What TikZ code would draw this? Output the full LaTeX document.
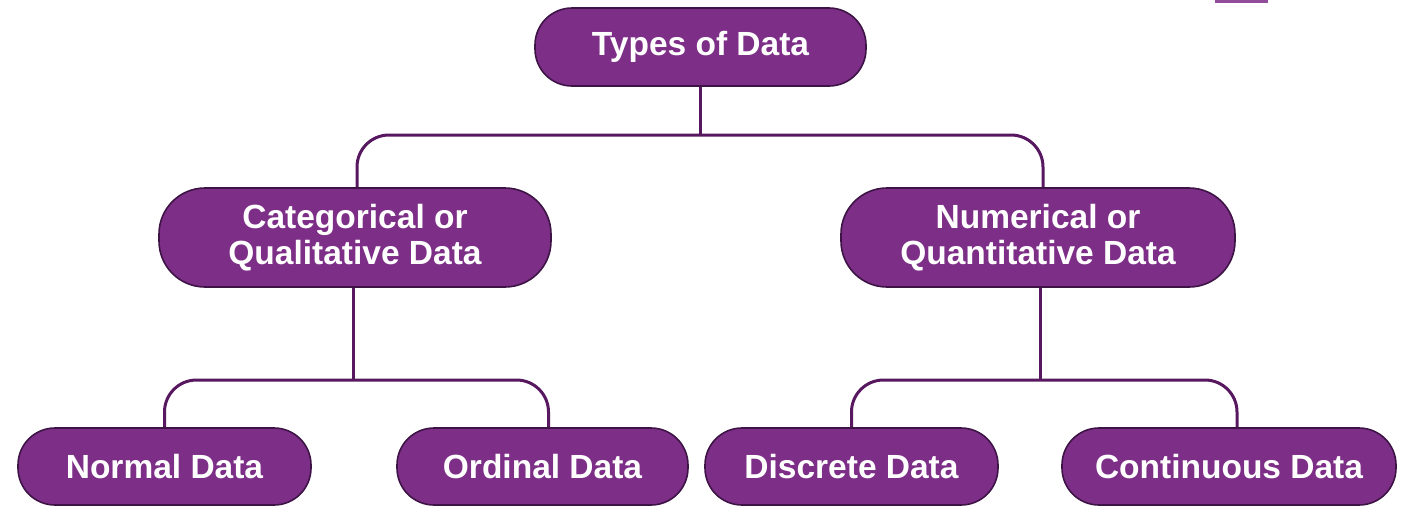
\documentclass[tikz,border=0pt]{standalone}
\usepackage{fontspec}
\setmainfont{Liberation Sans}
\usetikzlibrary{calc}
\definecolor{boxfill}{RGB}{125,46,135}
\definecolor{boxline}{RGB}{62,20,70}
\definecolor{connline}{RGB}{88,24,96}
\tikzset{
  databox/.style={draw=boxline, line width=1.6pt, fill=boxfill, text=white,
    font=\fontsize{33.5}{35.5}\selectfont\bfseries, align=center,
    inner sep=0pt, rectangle},
  smallbox/.style={databox, minimum height=77pt, rounded corners=37pt},
  bigbox/.style={databox, minimum height=99pt, rounded corners=46pt},
  conn/.style={draw=connline, line width=3pt, rounded corners=32pt},
}
\begin{document}
\begin{tikzpicture}[x=1pt,y=-1pt]
\useasboundingbox (0,0) rectangle (1401,507);
% cropped logo fragment at top right
\fill[boxfill!85] (1215,0) rectangle (1268,3);

\node[smallbox, minimum width=331pt, minimum height=78pt] (top) at (700.5,47) {Types of Data};
\node[bigbox, minimum width=392pt] (cat) at (355,237.5) {Categorical or\\Qualitative Data};
\node[bigbox, minimum width=394pt] (num) at (1038,237.5) {Numerical or\\Quantitative Data};
\node[smallbox, minimum width=293pt] (nor) at (164.5,466.5) {Normal Data};
\node[smallbox, minimum width=291pt] (ord) at (542.5,466.5) {Ordinal Data};
\node[smallbox, minimum width=293pt] (dis) at (851.5,466.5) {Discrete Data};
\node[smallbox, minimum width=334pt] (con) at (1229,466.5) {Continuous Data};

\coordinate (j1) at (700.5,135);
\coordinate (j2) at (353,380);
\coordinate (j3) at (1040,380);

\draw[conn] (top.south) -- (j1);
\draw[conn] ([xshift=2pt]cat.north) |- (j1) -| ([xshift=5pt]num.north);

\draw[conn] ([xshift=-2pt]cat.south) -- (j2);
\draw[conn] (nor.north) |- (j2) -| ([xshift=6pt]ord.north);

\draw[conn] ([xshift=2pt]num.south) -- (j3);
\draw[conn] (dis.north) |- (j3) -| ([xshift=8pt]con.north);
\end{tikzpicture}
\end{document}
